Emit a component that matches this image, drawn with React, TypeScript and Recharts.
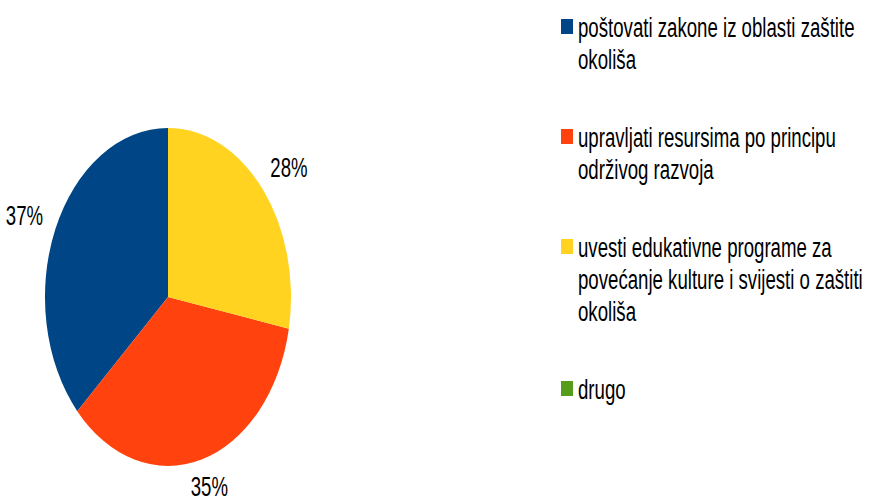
import React from 'react';
import { PieChart, Pie, Cell, Legend } from 'recharts';

const categories = [
  'poštovati zakone iz oblasti zaštite okoliša',
  'upravljati resursima po principu održivog razvoja',
  'uvesti edukativne programe za povećanje kulture i svijesti o zaštiti okoliša',
  'drugo',
];
const values = [36.8, 35.2, 28.0, 0];
const colors = ['#004586', '#ff420e', '#ffd320', '#579d1c'];

const data = categories.map((name, i) => ({ name, value: values[i] }));

const W = 871;
const H = 497;
const CX = 168;
const CY = 297;
const R = 169;
const XS = 0.728; // horizontal squash of the pie (elliptical pie)
const FONT = '"Liberation Sans", Arial, sans-serif';
const TEXT_SIZE = 27;
const TEXT_SX = 0.69;

const renderLabel = (p: any) => {
  if (!p.value) return null;
  const rad = (Math.PI / 180) * p.midAngle;
  const c = Math.cos(rad);
  const s = Math.sin(rad);
  const ex = p.cx + p.outerRadius * XS * c;
  const ey = p.cy - p.outerRadius * s;
  const hw = 18.5;
  const hh = 12;
  const g = 12;
  const d = g + hw * Math.abs(c) + hh * Math.abs(s);
  const tx = ex + d * c;
  const ty = ey - d * s;
  return (
    <text
      key={`lbl-${p.index}`}
      x={0}
      y={0}
      transform={`translate(${tx},${ty}) scale(${TEXT_SX},1)`}
      textAnchor="middle"
      dominantBaseline="central"
      fontSize={TEXT_SIZE}
      fontFamily={FONT}
      fill="#000"
    >
      {`${Math.round(p.percent * 100)}%`}
    </text>
  );
};

const renderLegend = (props: any) => {
  const payload = [...(props.payload || [])].sort(
    (a: any, b: any) => categories.indexOf(a.value) - categories.indexOf(b.value)
  );
  return (
    <div style={{ fontFamily: FONT }}>
      {payload.map((e: any, i: number) => {
        const idx = categories.indexOf(e.value);
        return (
          <div
            key={i}
            style={{
              position: 'relative',
              paddingLeft: 17,
              marginBottom: 46,
              lineHeight: '32px',
              fontSize: TEXT_SIZE,
              color: '#000',
            }}
          >
            <span
              style={{
                position: 'absolute',
                left: 0,
                top: 7,
                width: 12,
                height: 15,
                background: idx >= 0 ? colors[idx] : e.color,
              }}
            />
            <div
              style={{
                transform: `scaleX(${TEXT_SX})`,
                transformOrigin: 'left top',
                width: 300 / TEXT_SX,
                whiteSpace: 'normal',
              }}
            >
              {e.value}
            </div>
          </div>
        );
      })}
    </div>
  );
};

export default function App() {
  return (
    <div
      style={{
        position: 'absolute',
        left: 0,
        top: 0,
        width: W,
        height: H,
        overflow: 'hidden',
        background: '#fff',
      }}
    >
      <style>{`
        .ell-pie .recharts-sector {
          transform-box: view-box;
          transform-origin: ${CX}px ${CY}px;
          transform: scaleX(${XS});
        }
      `}</style>
      <PieChart width={W} height={H} margin={{ top: 0, right: 0, bottom: 0, left: 0 }} className="ell-pie">
        <Pie
          data={data}
          dataKey="value"
          nameKey="name"
          cx={CX}
          cy={CY}
          outerRadius={R}
          innerRadius={0}
          startAngle={90}
          endAngle={450}
          stroke="none"
          label={renderLabel}
          labelLine={false}
          isAnimationActive={false}
        >
          {data.map((d, i) => (
            <Cell key={d.name} fill={colors[i]} />
          ))}
        </Pie>
        <Legend
          layout="vertical"
          align="right"
          verticalAlign="top"
          itemSorter={null}
          content={renderLegend}
          wrapperStyle={{ position: 'absolute', left: 561, top: 12, width: 310 }}
        />
      </PieChart>
    </div>
  );
}
